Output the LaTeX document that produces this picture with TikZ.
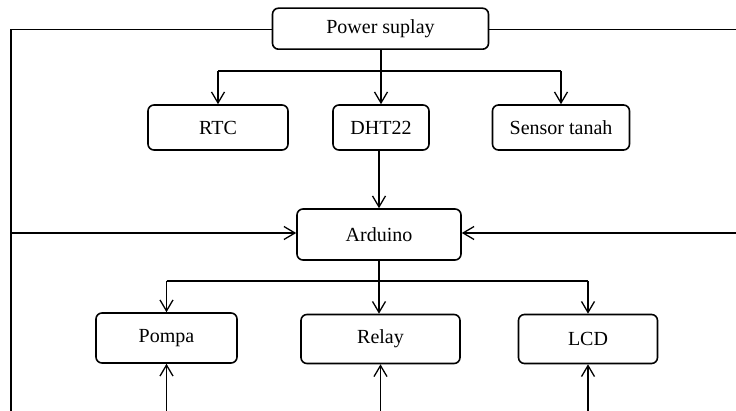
\documentclass[tikz,border=0pt]{standalone}
\usepackage{fontspec}
\setmainfont{Liberation Serif}
\usetikzlibrary{arrows.meta}
\begin{document}
\begin{tikzpicture}[x=1pt,y=-1pt,
  blk/.style={draw, line width=1.6pt, rounded corners=6pt, align=center, inner sep=0pt, font=\fontsize{20}{24}\selectfont},
  conn/.style={line width=1.3pt},
  arr/.style={conn, -{Straight Barb[length=11pt,width=13pt,line width=1.3pt]}}
]
\useasboundingbox (0,0) rectangle (736,411);
\clip (0,0) rectangle (736,411);

\node[blk, minimum width=216pt, minimum height=41pt] (pw) at (380.5,28.7) {Power suplay};
\node[blk, minimum width=140pt, minimum height=45pt] (rtc) at (218,127.5) {RTC};
\node[blk, minimum width=96pt, minimum height=45pt] (dht) at (381,127.5) {DHT22};
\node[blk, minimum width=137pt, minimum height=45pt] (sen) at (561,127.5) {Sensor tanah};
\node[blk, minimum width=164pt, minimum height=51pt] (ard) at (379,234.5) {Arduino};
\node[blk, minimum width=141pt, minimum height=50pt] (pom) at (166.5,338) {Pompa};
\node[blk, minimum width=159pt, minimum height=49pt] (rel) at (380.5,339) {Relay};
\node[blk, minimum width=139pt, minimum height=49pt] (lcd) at (588,339) {LCD};

% edge coordinates
\coordinate (L1) at (11,29.3);
\coordinate (Lb) at (11,412);
\coordinate (L2) at (11,233);
\coordinate (R1) at (737,29.3);
\coordinate (R2) at (737,233);
\coordinate (J) at (0,71);
\coordinate (K) at (0,281);
\coordinate (B) at (0,412);

% power outer lines
\draw[conn] (pw.west |- L1) -- (L1) -- (Lb);
\draw[conn] (pw.east |- R1) -- (R1);
\draw[arr] (L2) -- (L2 -| ard.west);
\draw[arr] (R2) -- (R2 -| ard.east);

% power to sensors
\draw[arr] (pw.south -| dht.north) -- (dht.north);
\draw[conn] (J -| rtc.north) -- (J -| sen.north);
\draw[arr] (J -| rtc.north) -- (rtc.north);
\draw[arr] (J -| sen.north) -- (sen.north);

% DHT to Arduino
\draw[arr] (dht.south -| ard.north) -- (ard.north);

% Arduino to outputs
\draw[arr] (ard.south) -- (ard.south |- rel.north);
\draw[conn] (K -| pom.north) -- (K -| lcd.north);
\draw[arr] (K -| pom.north) -- (pom.north);
\draw[arr] (K -| lcd.north) -- (lcd.north);

% bottom lines
\draw[arr] (B -| pom.south) -- (pom.south);
\draw[arr] (B -| rel.south) -- (rel.south);
\draw[arr] (B -| lcd.south) -- (lcd.south);
\end{tikzpicture}
\end{document}
